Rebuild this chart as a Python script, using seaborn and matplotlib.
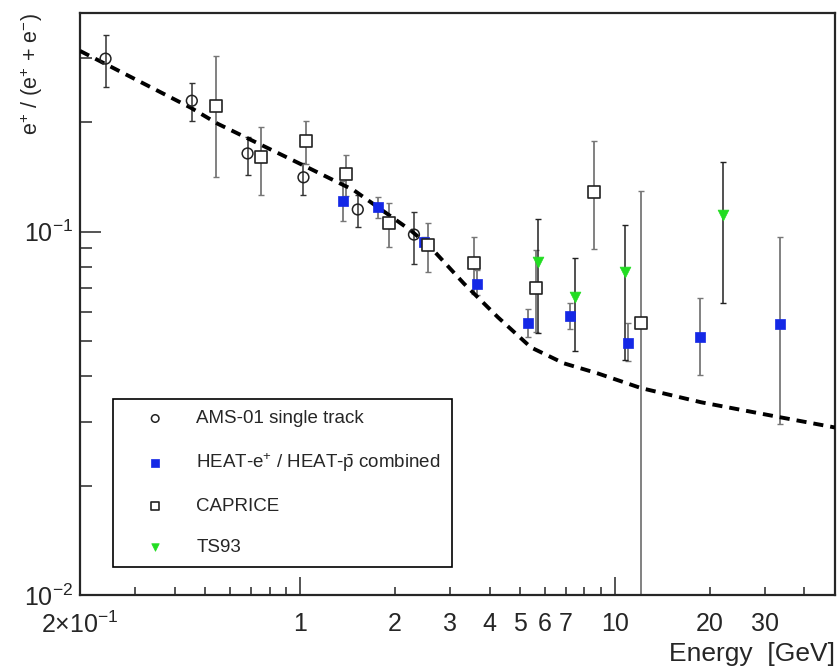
import numpy as np
import matplotlib
matplotlib.use("Agg")
import matplotlib.pyplot as plt
import seaborn as sns

# positron fraction data
ams_x = [0.241, 0.453, 0.681, 1.025, 1.525, 2.30]
ams_y = [0.299, 0.229, 0.164, 0.141, 0.115, 0.0981]
ams_hi = [0.347, 0.257, 0.182, 0.154, 0.126, 0.113]
ams_lo = [0.250, 0.202, 0.143, 0.126, 0.1027, 0.0815]

heat_x = [1.367, 1.762, 2.47, 3.64, 5.28, 7.19, 10.97, 18.6, 33.4]
heat_y = [0.121, 0.1166, 0.0933, 0.0718, 0.0561, 0.0586, 0.0494, 0.0513, 0.0557]
heat_hi = [0.138, 0.1248, 0.0965, 0.0782, 0.0611, 0.0637, 0.0560, 0.0658, 0.0969]
heat_lo = [0.107, 0.109, 0.0898, 0.0667, 0.0513, 0.0541, 0.0439, 0.0404, 0.0296]

cap_x = [0.540, 0.750, 1.042, 1.403, 1.918, 2.55, 3.57, 5.61, 8.60, 12.1]
cap_y = [0.222, 0.160, 0.177, 0.144, 0.1054, 0.0919, 0.0818, 0.0698, 0.1288, 0.0560]
cap_hi = [0.305, 0.194, 0.202, 0.162, 0.120, 0.1054, 0.0965, 0.0887, 0.177, 0.129]
cap_lo = [0.1416, 0.126, 0.153, 0.125, 0.0906, 0.0773, 0.0672, 0.0528, 0.0896, 0.001]

ts_x = [5.68, 7.48, 10.78, 22.0]
ts_y = [0.0824, 0.0661, 0.0773, 0.1107]
ts_hi = [0.1084, 0.0847, 0.1045, 0.155]
ts_lo = [0.0526, 0.0468, 0.0443, 0.0637]

# secondary production model (dashed curve)
model_x = [0.2, 0.450, 0.547, 1.058, 1.48, 2.25, 2.60, 3.31, 4.25, 5.41, 6.88,
           8.83, 12.1, 18.8, 33.7, 50.0]
model_y = [0.314, 0.219, 0.198, 0.150, 0.130, 0.1006, 0.0904, 0.0720, 0.0581,
           0.0480, 0.0434, 0.0407, 0.0371, 0.0339, 0.0308, 0.0289]

sns.set_style("ticks")
plt.rcParams['font.family'] = ['Liberation Sans', 'DejaVu Sans']
plt.rcParams['mathtext.fontset'] = 'custom'
plt.rcParams['mathtext.rm'] = 'Liberation Sans'
plt.rcParams['mathtext.it'] = 'Liberation Sans:italic'

fig = plt.figure(figsize=(8.38, 6.69), dpi=100)
ax = fig.add_axes([0.0955, 0.1106, 0.9009, 0.8704])
ax.set_xscale('log')
ax.set_yscale('log')


def errs(y, hi, lo):
    y = np.array(y)
    return [y - np.array(lo), np.array(hi) - y]


ax.errorbar(ams_x, ams_y, yerr=errs(ams_y, ams_hi, ams_lo), fmt='none',
            ecolor='#333333', elinewidth=1.1, capsize=2.5, zorder=2)
ax.errorbar(heat_x, heat_y, yerr=errs(heat_y, heat_hi, heat_lo), fmt='none',
            ecolor='#777777', elinewidth=1.3, capsize=2.5, zorder=2)
ax.errorbar(cap_x, cap_y, yerr=errs(cap_y, cap_hi, cap_lo), fmt='none',
            ecolor='#777777', elinewidth=1.3, capsize=2.5, zorder=2)
ax.errorbar(ts_x, ts_y, yerr=errs(ts_y, ts_hi, ts_lo), fmt='none',
            ecolor='#222222', elinewidth=1.1, capsize=2.5, zorder=2)

sns.lineplot(x=model_x, y=model_y, ax=ax, color='black', lw=2.8,
             linestyle=(0, (2.6, 1.8)), estimator=None, sort=False, zorder=3)

sns.scatterplot(x=ams_x, y=ams_y, ax=ax, marker='o', s=60, facecolor='none',
                edgecolor='#222222', linewidth=1.1, label='AMS-01 single track', zorder=4)
sns.scatterplot(x=heat_x, y=heat_y, ax=ax, marker='s', s=60, color='#1428e6',
                edgecolor='#1428e6', linewidth=0.5,
                label='HEAT-e$^{+}$ / HEAT-$\\bar{\\mathrm{p}}$ combined', zorder=4)
sns.scatterplot(x=cap_x, y=cap_y, ax=ax, marker='s', s=70, facecolor='white',
                edgecolor='#222222', linewidth=1.2, label='CAPRICE', zorder=4)
sns.scatterplot(x=ts_x, y=ts_y, ax=ax, marker='v', s=60, color='#22dd22',
                edgecolor='#22dd22', linewidth=0.5, label='TS93', zorder=4)

ax.set_xlim(0.2, 50)
ax.set_ylim(0.01, 0.4)

# ticks, ROOT style
ax.set_xticks([1, 10], ['1', '10'])
minor_x = [0.2, 0.3, 0.4, 0.5, 0.6, 0.7, 0.8, 0.9, 2, 3, 4, 5, 6, 7, 8, 9, 20, 30, 40]
minor_xl = ['$2{\\times}10^{-1}$', '', '', '', '', '', '', '', '2', '3', '4', '5',
            '6', '7', '', '', '20', '30', '']
ax.set_xticks(minor_x, minor_xl, minor=True)
ax.set_yticks([0.01, 0.1], ['$10^{-2}$', '$10^{-1}$'])
minor_y = [0.02, 0.03, 0.04, 0.05, 0.06, 0.07, 0.08, 0.09, 0.2, 0.3]
ax.set_yticks(minor_y, [''] * len(minor_y), minor=True)

ax.tick_params(axis='x', which='major', direction='in', length=13, width=1.1,
               labelsize=18, pad=12)
ax.tick_params(axis='x', which='minor', direction='in', length=6, width=1.1,
               labelsize=18, pad=12)
ax.tick_params(axis='y', which='major', direction='in', length=15, width=1.1,
               labelsize=18, pad=5)
ax.tick_params(axis='y', which='minor', direction='in', length=8.5, width=1.1)
for sp in ax.spines.values():
    sp.set_linewidth(1.6)
    sp.set_visible(True)

ax.set_xlabel('Energy  [GeV]', fontsize=19, loc='right')
ax.xaxis.set_label_coords(1.0, -0.08)
ax.set_ylabel('e$^{+}$ / (e$^{+}$ + e$^{-}$)', fontsize=15.5, loc='top')
ax.yaxis.set_label_coords(-0.047, 1.0)

leg = ax.legend(loc='lower left', bbox_to_anchor=(0.0437, 0.048), fontsize=13.5,
                frameon=True, fancybox=False, framealpha=1, edgecolor='black',
                borderpad=0.6, labelspacing=1.27, handlelength=3.3,
                handletextpad=0.55, markerscale=0.7, borderaxespad=0)
leg.get_frame().set_linewidth(1.2)

fig.savefig('out.png', dpi=100, facecolor='white')
